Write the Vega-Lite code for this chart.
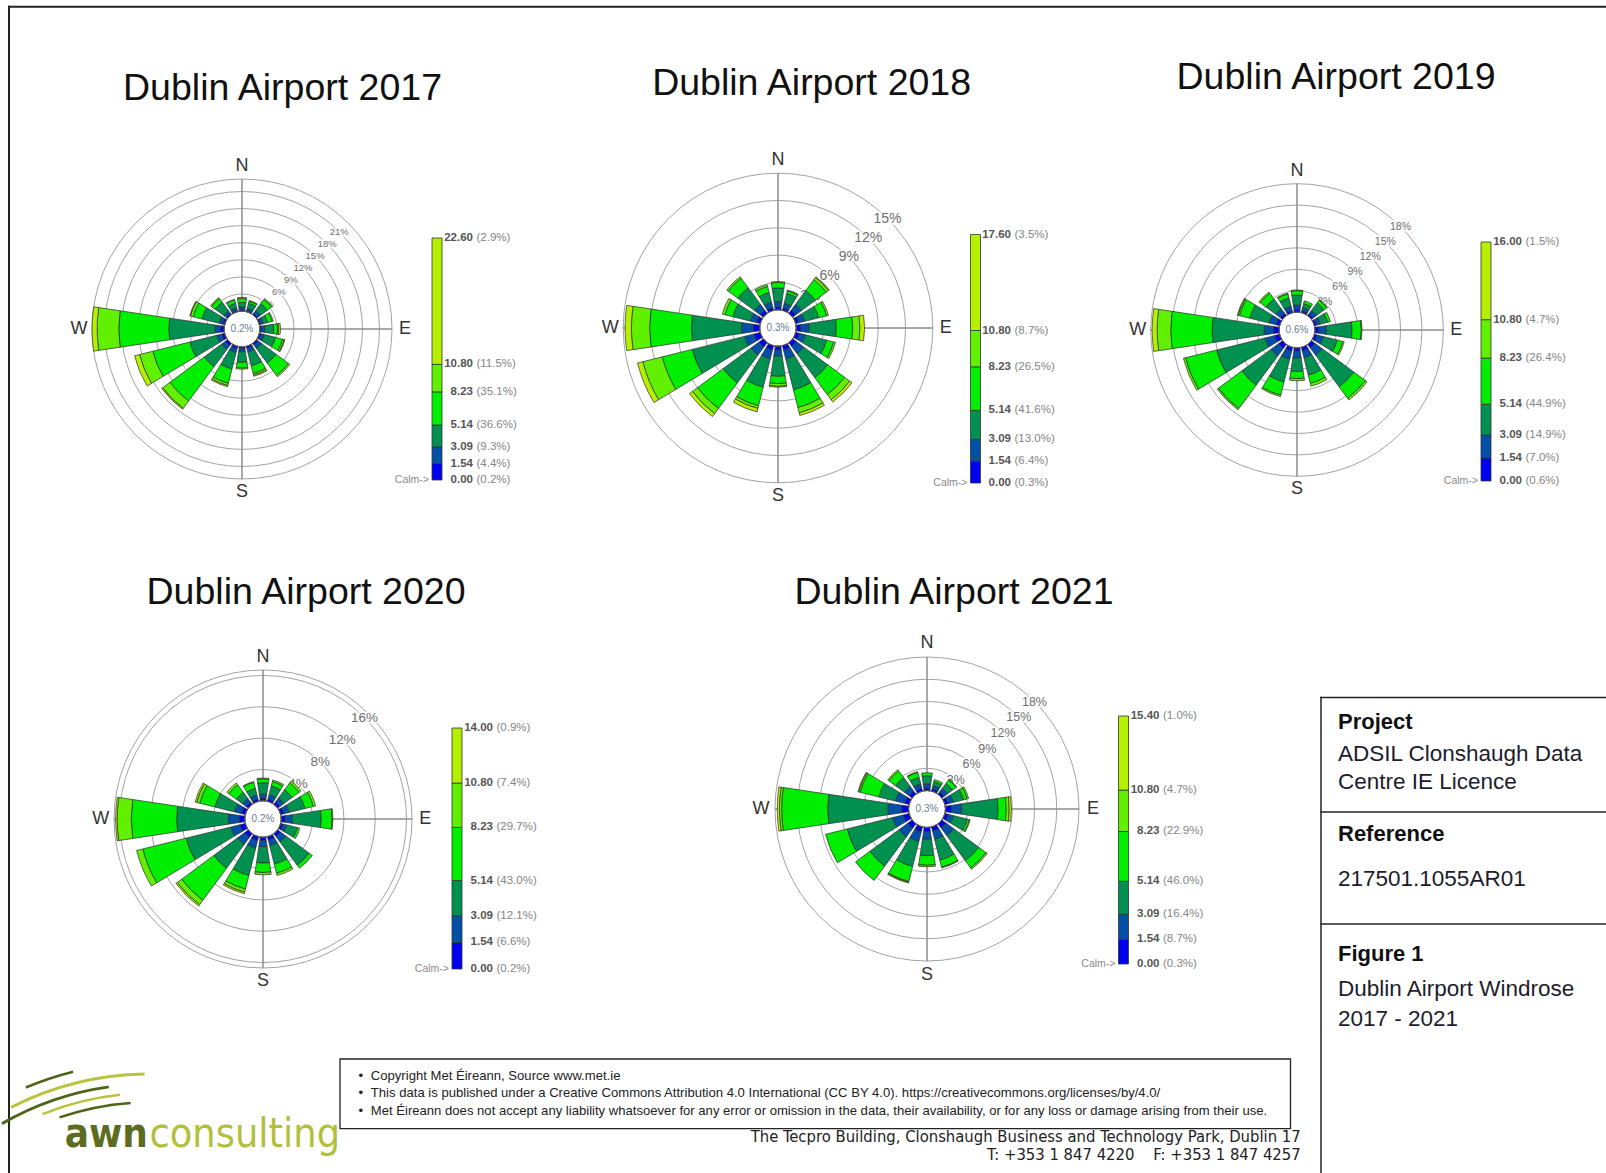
{
"$schema": "https://vega.github.io/schema/vega-lite/v6.json",
"background": "white",
"padding": 0,
"spacing": 0,
"config": {"view": {"stroke": null}, "font": "Liberation Sans", "concat": {"spacing": 0}},
"datasets": {
"rose": [
{"yr":2017,"dir":0,"b1":0.25,"b2":0.45,"b3":0.8,"b4":0.7,"b5":0.2,"b6":0},
{"yr":2017,"dir":22.5,"b1":0.2,"b2":0.4,"b3":0.9,"b4":0.4,"b5":0.1,"b6":0},
{"yr":2017,"dir":45,"b1":0.3,"b2":0.55,"b3":1.55,"b4":0.9,"b5":0.2,"b6":0},
{"yr":2017,"dir":67.5,"b1":0.25,"b2":0.45,"b3":0.8,"b4":0.8,"b5":0.2,"b6":0},
{"yr":2017,"dir":90,"b1":0.3,"b2":0.55,"b3":1.55,"b4":0.7,"b5":0.2,"b6":0.3},
{"yr":2017,"dir":112.5,"b1":0.3,"b2":0.6,"b3":2.0,"b4":1.3,"b5":0.3,"b6":0.1},
{"yr":2017,"dir":135,"b1":0.4,"b2":0.7,"b3":3.2,"b4":2.7,"b5":0.3,"b6":0},
{"yr":2017,"dir":157.5,"b1":0.35,"b2":0.65,"b3":2.5,"b4":1.4,"b5":0.3,"b6":0.2},
{"yr":2017,"dir":180,"b1":0.3,"b2":0.55,"b3":1.85,"b4":1.0,"b5":0.2,"b6":0},
{"yr":2017,"dir":202.5,"b1":0.4,"b2":0.7,"b3":3.0,"b4":2.6,"b5":0.4,"b6":0.2},
{"yr":2017,"dir":225,"b1":0.5,"b2":0.8,"b3":3.8,"b4":7.5,"b5":1.6,"b6":0.2},
{"yr":2017,"dir":247.5,"b1":0.5,"b2":0.9,"b3":4.9,"b4":6.7,"b5":2.4,"b6":0.9},
{"yr":2017,"dir":270,"b1":0.6,"b2":1.0,"b3":8.1,"b4":8.8,"b5":3.8,"b6":0.9},
{"yr":2017,"dir":292.5,"b1":0.35,"b2":0.65,"b3":3.1,"b4":1.6,"b5":0.5,"b6":0.1},
{"yr":2017,"dir":315,"b1":0.3,"b2":0.55,"b3":1.85,"b4":0.8,"b5":0.2,"b6":0},
{"yr":2017,"dir":337.5,"b1":0.2,"b2":0.45,"b3":0.85,"b4":0.6,"b5":0.1,"b6":0},
{"yr":2018,"dir":0,"b1":0.3,"b2":0.6,"b3":1.5,"b4":0.6,"b5":0.1,"b6":0},
{"yr":2018,"dir":22.5,"b1":0.25,"b2":0.55,"b3":1.1,"b4":0.3,"b5":0.1,"b6":0},
{"yr":2018,"dir":45,"b1":0.4,"b2":0.8,"b3":1.9,"b4":1.5,"b5":0.3,"b6":0.1},
{"yr":2018,"dir":67.5,"b1":0.35,"b2":0.65,"b3":1.6,"b4":0.9,"b5":0.2,"b6":0},
{"yr":2018,"dir":90,"b1":0.5,"b2":0.9,"b3":3.0,"b4":1.8,"b5":0.8,"b6":0.5},
{"yr":2018,"dir":112.5,"b1":0.4,"b2":0.7,"b3":2.4,"b4":0.8,"b5":0.2,"b6":0},
{"yr":2018,"dir":135,"b1":0.5,"b2":1.0,"b3":3.3,"b4":2.3,"b5":0.7,"b6":0.3},
{"yr":2018,"dir":157.5,"b1":0.5,"b2":1.0,"b3":3.5,"b4":2.0,"b5":0.6,"b6":0.3},
{"yr":2018,"dir":180,"b1":0.4,"b2":0.7,"b3":2.2,"b4":0.8,"b5":0.3,"b6":0.1},
{"yr":2018,"dir":202.5,"b1":0.5,"b2":1.0,"b3":3.2,"b4":2.1,"b5":0.3,"b6":0.4},
{"yr":2018,"dir":225,"b1":0.6,"b2":1.1,"b3":3.8,"b4":3.5,"b5":0.7,"b6":0.4},
{"yr":2018,"dir":247.5,"b1":0.7,"b2":1.1,"b3":5.9,"b4":3.4,"b5":2.2,"b6":0.6},
{"yr":2018,"dir":270,"b1":0.7,"b2":1.3,"b3":5.5,"b4":4.6,"b5":2.0,"b6":0.7},
{"yr":2018,"dir":292.5,"b1":0.4,"b2":0.7,"b3":2.0,"b4":0.9,"b5":0.3,"b6":0},
{"yr":2018,"dir":315,"b1":0.4,"b2":0.8,"b3":2.3,"b4":1.3,"b5":0.2,"b6":0},
{"yr":2018,"dir":337.5,"b1":0.3,"b2":0.6,"b3":1.1,"b4":0.7,"b5":0.2,"b6":0},
{"yr":2019,"dir":0,"b1":0.35,"b2":0.65,"b3":1.4,"b4":0.6,"b5":0.1,"b6":0},
{"yr":2019,"dir":22.5,"b1":0.25,"b2":0.45,"b3":0.6,"b4":0.4,"b5":0,"b6":0},
{"yr":2019,"dir":45,"b1":0.3,"b2":0.6,"b3":1.3,"b4":0.5,"b5":0.1,"b6":0},
{"yr":2019,"dir":67.5,"b1":0.3,"b2":0.55,"b3":1.05,"b4":0.4,"b5":0,"b6":0},
{"yr":2019,"dir":90,"b1":0.55,"b2":1.05,"b3":3.6,"b4":1.3,"b5":0.1,"b6":0},
{"yr":2019,"dir":112.5,"b1":0.4,"b2":0.9,"b3":2.0,"b4":0.8,"b5":0.2,"b6":0},
{"yr":2019,"dir":135,"b1":0.6,"b2":1.3,"b3":5.5,"b4":2.0,"b5":0.3,"b6":0},
{"yr":2019,"dir":157.5,"b1":0.5,"b2":1.0,"b3":2.5,"b4":1.2,"b5":0.4,"b6":0},
{"yr":2019,"dir":180,"b1":0.45,"b2":0.95,"b3":1.9,"b4":1.0,"b5":0.3,"b6":0},
{"yr":2019,"dir":202.5,"b1":0.55,"b2":1.15,"b3":3.3,"b4":1.9,"b5":0.2,"b6":0},
{"yr":2019,"dir":225,"b1":0.7,"b2":1.3,"b3":5.1,"b4":4.1,"b5":0.2,"b6":0},
{"yr":2019,"dir":247.5,"b1":0.7,"b2":1.4,"b3":7.0,"b4":4.5,"b5":0.3,"b6":0},
{"yr":2019,"dir":270,"b1":0.75,"b2":1.35,"b3":7.3,"b4":5.8,"b5":1.9,"b6":0.7},
{"yr":2019,"dir":292.5,"b1":0.5,"b2":1.0,"b3":2.8,"b4":1.5,"b5":0.2,"b6":0.1},
{"yr":2019,"dir":315,"b1":0.4,"b2":0.8,"b3":1.7,"b4":1.0,"b5":0.2,"b6":0},
{"yr":2019,"dir":337.5,"b1":0.3,"b2":0.6,"b3":1.2,"b4":0.6,"b5":0.1,"b6":0},
{"yr":2020,"dir":0,"b1":0.3,"b2":0.55,"b3":1.45,"b4":0.5,"b5":0.1,"b6":0},
{"yr":2020,"dir":22.5,"b1":0.3,"b2":0.55,"b3":1.15,"b4":0.6,"b5":0.2,"b6":0},
{"yr":2020,"dir":45,"b1":0.35,"b2":0.65,"b3":1.3,"b4":1.1,"b5":0.3,"b6":0},
{"yr":2020,"dir":67.5,"b1":0.4,"b2":0.7,"b3":2.1,"b4":1.1,"b5":0.3,"b6":0},
{"yr":2020,"dir":90,"b1":0.5,"b2":0.9,"b3":3.7,"b4":1.4,"b5":0.1,"b6":0},
{"yr":2020,"dir":112.5,"b1":0.3,"b2":0.5,"b3":1.4,"b4":0.3,"b5":0,"b6":0},
{"yr":2020,"dir":135,"b1":0.45,"b2":0.85,"b3":3.7,"b4":0.5,"b5":0,"b6":0},
{"yr":2020,"dir":157.5,"b1":0.45,"b2":0.75,"b3":2.4,"b4":1.2,"b5":0.3,"b6":0},
{"yr":2020,"dir":180,"b1":0.4,"b2":0.8,"b3":2.1,"b4":1.2,"b5":0.3,"b6":0},
{"yr":2020,"dir":202.5,"b1":0.5,"b2":1.0,"b3":3.6,"b4":1.8,"b5":0.4,"b6":0.2},
{"yr":2020,"dir":225,"b1":0.6,"b2":1.1,"b3":3.8,"b4":5.1,"b5":0.7,"b6":0.2},
{"yr":2020,"dir":247.5,"b1":0.7,"b2":1.2,"b3":5.9,"b4":5.7,"b5":0.8,"b6":0},
{"yr":2020,"dir":270,"b1":0.7,"b2":1.4,"b3":6.6,"b4":5.8,"b5":1.8,"b6":0.2},
{"yr":2020,"dir":292.5,"b1":0.5,"b2":0.9,"b3":2.6,"b4":2.0,"b5":0.4,"b6":0.2},
{"yr":2020,"dir":315,"b1":0.35,"b2":0.6,"b3":0.95,"b4":1.2,"b5":0.3,"b6":0},
{"yr":2020,"dir":337.5,"b1":0.3,"b2":0.5,"b3":0.9,"b4":0.8,"b5":0.1,"b6":0},
{"yr":2021,"dir":0,"b1":0.35,"b2":0.55,"b3":1.1,"b4":0.4,"b5":0,"b6":0},
{"yr":2021,"dir":22.5,"b1":0.3,"b2":0.45,"b3":0.55,"b4":0.3,"b5":0,"b6":0},
{"yr":2021,"dir":45,"b1":0.35,"b2":0.6,"b3":0.85,"b4":0.6,"b5":0.1,"b6":0},
{"yr":2021,"dir":67.5,"b1":0.45,"b2":0.75,"b3":1.4,"b4":0.5,"b5":0.2,"b6":0},
{"yr":2021,"dir":90,"b1":0.8,"b2":1.4,"b3":4.9,"b4":1.1,"b5":0.4,"b6":0.3},
{"yr":2021,"dir":112.5,"b1":0.45,"b2":0.75,"b3":1.9,"b4":0.3,"b5":0.1,"b6":0},
{"yr":2021,"dir":135,"b1":0.7,"b2":1.3,"b3":4.2,"b4":1.2,"b5":0.2,"b6":0},
{"yr":2021,"dir":157.5,"b1":0.6,"b2":1.1,"b3":2.9,"b4":1.0,"b5":0.1,"b6":0},
{"yr":2021,"dir":180,"b1":0.55,"b2":1.05,"b3":2.2,"b4":1.3,"b5":0.2,"b6":0},
{"yr":2021,"dir":202.5,"b1":0.7,"b2":1.3,"b3":3.5,"b4":2.1,"b5":0.1,"b6":0.1},
{"yr":2021,"dir":225,"b1":0.75,"b2":1.45,"b3":4.9,"b4":2.4,"b5":0,"b6":0},
{"yr":2021,"dir":247.5,"b1":0.8,"b2":1.5,"b3":6.3,"b4":3.0,"b5":0,"b6":0},
{"yr":2021,"dir":270,"b1":0.9,"b2":1.9,"b3":8.1,"b4":6.2,"b5":0.3,"b6":0.3},
{"yr":2021,"dir":292.5,"b1":0.65,"b2":1.25,"b3":2.3,"b4":2.6,"b5":0.2,"b6":0.1},
{"yr":2021,"dir":315,"b1":0.5,"b2":0.8,"b3":1.5,"b4":1.1,"b5":0.2,"b6":0},
{"yr":2021,"dir":337.5,"b1":0.4,"b2":0.6,"b3":0.9,"b4":0.7,"b5":0.1,"b6":0}
],
"leg": [
{"yr":2017,"bin":"calm","lo":0,"hi":0,"num":"0.00","pct":"(0.2%)"},
{"yr":2017,"bin":"b1","lo":0,"hi":1.54,"num":"1.54","pct":"(4.4%)"},
{"yr":2017,"bin":"b2","lo":1.54,"hi":3.09,"num":"3.09","pct":"(9.3%)"},
{"yr":2017,"bin":"b3","lo":3.09,"hi":5.14,"num":"5.14","pct":"(36.6%)"},
{"yr":2017,"bin":"b4","lo":5.14,"hi":8.23,"num":"8.23","pct":"(35.1%)"},
{"yr":2017,"bin":"b5","lo":8.23,"hi":10.8,"num":"10.80","pct":"(11.5%)"},
{"yr":2017,"bin":"b6","lo":10.8,"hi":22.6,"num":"22.60","pct":"(2.9%)"},
{"yr":2018,"bin":"calm","lo":0,"hi":0,"num":"0.00","pct":"(0.3%)"},
{"yr":2018,"bin":"b1","lo":0,"hi":1.54,"num":"1.54","pct":"(6.4%)"},
{"yr":2018,"bin":"b2","lo":1.54,"hi":3.09,"num":"3.09","pct":"(13.0%)"},
{"yr":2018,"bin":"b3","lo":3.09,"hi":5.14,"num":"5.14","pct":"(41.6%)"},
{"yr":2018,"bin":"b4","lo":5.14,"hi":8.23,"num":"8.23","pct":"(26.5%)"},
{"yr":2018,"bin":"b5","lo":8.23,"hi":10.8,"num":"10.80","pct":"(8.7%)"},
{"yr":2018,"bin":"b6","lo":10.8,"hi":17.6,"num":"17.60","pct":"(3.5%)"},
{"yr":2019,"bin":"calm","lo":0,"hi":0,"num":"0.00","pct":"(0.6%)"},
{"yr":2019,"bin":"b1","lo":0,"hi":1.54,"num":"1.54","pct":"(7.0%)"},
{"yr":2019,"bin":"b2","lo":1.54,"hi":3.09,"num":"3.09","pct":"(14.9%)"},
{"yr":2019,"bin":"b3","lo":3.09,"hi":5.14,"num":"5.14","pct":"(44.9%)"},
{"yr":2019,"bin":"b4","lo":5.14,"hi":8.23,"num":"8.23","pct":"(26.4%)"},
{"yr":2019,"bin":"b5","lo":8.23,"hi":10.8,"num":"10.80","pct":"(4.7%)"},
{"yr":2019,"bin":"b6","lo":10.8,"hi":16,"num":"16.00","pct":"(1.5%)"},
{"yr":2020,"bin":"calm","lo":0,"hi":0,"num":"0.00","pct":"(0.2%)"},
{"yr":2020,"bin":"b1","lo":0,"hi":1.54,"num":"1.54","pct":"(6.6%)"},
{"yr":2020,"bin":"b2","lo":1.54,"hi":3.09,"num":"3.09","pct":"(12.1%)"},
{"yr":2020,"bin":"b3","lo":3.09,"hi":5.14,"num":"5.14","pct":"(43.0%)"},
{"yr":2020,"bin":"b4","lo":5.14,"hi":8.23,"num":"8.23","pct":"(29.7%)"},
{"yr":2020,"bin":"b5","lo":8.23,"hi":10.8,"num":"10.80","pct":"(7.4%)"},
{"yr":2020,"bin":"b6","lo":10.8,"hi":14,"num":"14.00","pct":"(0.9%)"},
{"yr":2021,"bin":"calm","lo":0,"hi":0,"num":"0.00","pct":"(0.3%)"},
{"yr":2021,"bin":"b1","lo":0,"hi":1.54,"num":"1.54","pct":"(8.7%)"},
{"yr":2021,"bin":"b2","lo":1.54,"hi":3.09,"num":"3.09","pct":"(16.4%)"},
{"yr":2021,"bin":"b3","lo":3.09,"hi":5.14,"num":"5.14","pct":"(46.0%)"},
{"yr":2021,"bin":"b4","lo":5.14,"hi":8.23,"num":"8.23","pct":"(22.9%)"},
{"yr":2021,"bin":"b5","lo":8.23,"hi":10.8,"num":"10.80","pct":"(4.7%)"},
{"yr":2021,"bin":"b6","lo":10.8,"hi":15.4,"num":"15.40","pct":"(1.0%)"}
],
"grid": [
{"yr":2017,"g":3,"lab":"3%"},{"yr":2017,"g":6,"lab":"6%"},{"yr":2017,"g":9,"lab":"9%"},{"yr":2017,"g":12,"lab":"12%"},{"yr":2017,"g":15,"lab":"15%"},{"yr":2017,"g":18,"lab":"18%"},{"yr":2017,"g":21,"lab":"21%"},
{"yr":2018,"g":3,"lab":"3%"},{"yr":2018,"g":6,"lab":"6%"},{"yr":2018,"g":9,"lab":"9%"},{"yr":2018,"g":12,"lab":"12%"},{"yr":2018,"g":15,"lab":"15%"},
{"yr":2019,"g":3,"lab":"3%"},{"yr":2019,"g":6,"lab":"6%"},{"yr":2019,"g":9,"lab":"9%"},{"yr":2019,"g":12,"lab":"12%"},{"yr":2019,"g":15,"lab":"15%"},{"yr":2019,"g":18,"lab":"18%"},
{"yr":2020,"g":4,"lab":"4%"},{"yr":2020,"g":8,"lab":"8%"},{"yr":2020,"g":12,"lab":"12%"},{"yr":2020,"g":16,"lab":"16%"},
{"yr":2021,"g":3,"lab":"3%"},{"yr":2021,"g":6,"lab":"6%"},{"yr":2021,"g":9,"lab":"9%"},{"yr":2021,"g":12,"lab":"12%"},{"yr":2021,"g":15,"lab":"15%"},{"yr":2021,"g":18,"lab":"18%"}
],
"calm": [{"yr":2017,"calm":"0.2%"},{"yr":2018,"calm":"0.3%"},{"yr":2019,"calm":"0.6%"},{"yr":2020,"calm":"0.2%"},{"yr":2021,"calm":"0.3%"}],
"nesw": [{"a":0,"t":"N"},{"a":90,"t":"E"},{"a":180,"t":"S"},{"a":270,"t":"W"}]
},
"vconcat": [
{"hconcat": [
{"width": 420, "height": 545,
 "encoding": {"x": {"datum": 0, "type": "quantitative", "scale": {"domain": [-242, 178], "nice": false, "zero": false}, "axis": null},
              "y": {"datum": 0, "type": "quantitative", "scale": {"domain": [-216, 329], "nice": false, "zero": false}, "axis": null}},
 "layer": [
  {"data": {"values": [{}]}, "mark": {"type": "rect", "fill": "#222222"},
   "encoding": {"x": {"datum": -234, "type": "quantitative"}, "x2": {"datum": 1364}, "y": {"datum": 323.3, "type": "quantitative"}, "y2": {"datum": 321.3}}},
  {"data": {"values": [{}]}, "mark": {"type": "rect", "fill": "#222222"},
   "encoding": {"x": {"datum": -234, "type": "quantitative"}, "x2": {"datum": -232}, "y": {"datum": 323.3, "type": "quantitative"}, "y2": {"datum": -216}}},
  {"data": {"name": "grid"}, "transform": [{"filter": "datum.yr == 2017"}], "mark": {"type": "arc", "filled": false, "stroke": "#a3a3a3", "strokeWidth": 1},
   "encoding": {"theta": {"datum": 0, "type": "quantitative", "scale": {"domain": [0, 360], "range": [0, 6.283185307179586], "zero": false, "nice": false}}, "theta2": {"datum": 360}, "radius": {"field": "g", "type": "quantitative", "stack": null, "scale": {"type": "linear", "domain": [0, 23.2], "range": [18, 150], "zero": false, "nice": false}}}},
  {"data": {"values": [{}]}, "mark": {"type": "arc", "filled": false, "stroke": "#a3a3a3", "strokeWidth": 1},
   "encoding": {"theta": {"datum": 0, "type": "quantitative"}, "theta2": {"datum": 360}, "radius": {"datum": 23.2, "type": "quantitative"}}},
  {"data": {"name": "nesw"}, "mark": {"type": "arc", "filled": false, "stroke": "#8c8c8c", "strokeWidth": 1},
   "encoding": {"theta": {"field": "a", "type": "quantitative", "stack": null}, "theta2": {"field": "a"}, "radius": {"datum": 23.2, "type": "quantitative"}, "radius2": {"datum": 0}}},
  {"data": {"name": "grid"}, "transform": [{"filter": "datum.yr == 2017"}], "mark": {"type": "text", "fontSize": 9.5, "fill": "white", "stroke": "white", "strokeWidth": 3},
   "encoding": {"theta": {"datum": 45, "type": "quantitative"}, "radius": {"field": "g", "type": "quantitative", "stack": null}, "text": {"field": "lab"}}},
  {"data": {"name": "grid"}, "transform": [{"filter": "datum.yr == 2017"}], "mark": {"type": "text", "fontSize": 9.5, "fill": "#6e6e6e"},
   "encoding": {"theta": {"datum": 45, "type": "quantitative"}, "radius": {"field": "g", "type": "quantitative", "stack": null}, "text": {"field": "lab"}}},
  {"data": {"name": "rose"}, "transform": [{"filter": "datum.yr == 2017"}, {"fold": ["b1","b2","b3","b4","b5","b6"], "as": ["bin","f"]}, {"stack": "f", "groupby": ["dir"], "sort": [{"field": "bin", "order": "ascending"}], "as": ["c0","c1"]}, {"filter": "datum.f > 0"}],
   "mark": {"type": "arc", "stroke": "#2d2d2d", "strokeWidth": 0.7, "thetaOffset": -0.1484, "theta2Offset": 0.1484},
   "encoding": {"theta": {"field": "dir", "type": "quantitative", "stack": null}, "theta2": {"field": "dir"}, "radius": {"field": "c1", "type": "quantitative", "stack": null}, "radius2": {"field": "c0"},
     "color": {"field": "bin", "type": "nominal", "scale": {"domain": ["b1","b2","b3","b4","b5","b6"], "range": ["#0000F0","#0050A8","#009150","#00EE00","#60F000","#B4F000"]}, "legend": null}}},
  {"data": {"values": [{}]}, "mark": {"type": "arc", "fill": "#87CEEB", "stroke": "#555555", "strokeWidth": 0.6},
   "encoding": {"theta": {"datum": 0, "type": "quantitative"}, "theta2": {"datum": 360}, "radius": {"datum": 0, "type": "quantitative"}}},
  {"data": {"name": "calm"}, "transform": [{"filter": "datum.yr == 2017"}], "mark": {"type": "text", "fontSize": 10, "fill": "#6a7f8f"}, "encoding": {"text": {"field": "calm"}}},
  {"data": {"name": "nesw"}, "mark": {"type": "text", "fontSize": 18, "fill": "#333333"},
   "encoding": {"theta": {"field": "a", "type": "quantitative", "stack": null}, "radius": {"datum": 25.5, "type": "quantitative"}, "text": {"field": "t"}}},
  {"data": {"values": [{}]}, "mark": {"type": "text", "fontSize": 37.5, "baseline": "alphabetic", "fill": "#111111"},
   "encoding": {"x": {"datum": 40.5, "type": "quantitative"}, "y": {"datum": 229.5, "type": "quantitative"}, "text": {"value": "Dublin Airport 2017"}}}
 ]},
{"width": 120, "height": 545, "data": {"name": "leg"},
 "encoding": {"x": {"datum": 12, "type": "quantitative", "scale": {"domain": [0, 120], "nice": false, "zero": false}, "axis": null},
              "y": {"field": "hi", "type": "quantitative", "scale": {"domain": [0, 22.6], "range": [480, 238], "nice": false, "zero": false}, "axis": null}},
 "layer": [
  {"transform": [{"filter": "datum.yr == 2017 && datum.bin != 'calm'"}], "mark": {"type": "rect", "stroke": "#333333", "strokeWidth": 0.8},
   "encoding": {"x2": {"datum": 22}, "y": {"field": "lo", "type": "quantitative", "scale": {"domain": [0, 22.6], "range": [480, 238], "nice": false, "zero": false}, "axis": null}, "y2": {"field": "hi"},
     "color": {"field": "bin", "type": "nominal", "scale": {"domain": ["b1","b2","b3","b4","b5","b6"], "range": ["#0000F0","#0050A8","#009150","#00EE00","#60F000","#B4F000"]}, "legend": null}}},
  {"transform": [{"filter": "datum.yr == 2017"}], "mark": {"type": "text", "align": "right", "fontSize": 11.5, "fontWeight": "bold", "fill": "#555555"},
   "encoding": {"x": {"datum": 53, "type": "quantitative"}, "text": {"field": "num"}}},
  {"transform": [{"filter": "datum.yr == 2017"}], "mark": {"type": "text", "align": "left", "fontSize": 11.5, "fill": "#858585"},
   "encoding": {"x": {"datum": 56.5, "type": "quantitative"}, "text": {"field": "pct"}}},
  {"transform": [{"filter": "datum.yr == 2017 && datum.bin == 'calm'"}], "mark": {"type": "text", "align": "right", "fontSize": 10.5, "fill": "#8a8a8a"},
   "encoding": {"x": {"datum": 9, "type": "quantitative"}, "text": {"value": "Calm->"}}},
  {"data": {"values": [{}]}, "mark": {"type": "text", "fontSize": 12.5, "fontWeight": "bold", "fill": "#6b6b6b", "dy": -33},
   "encoding": {"x": {"datum": 51, "type": "quantitative"}, "y": {"datum": 22.6, "type": "quantitative"}, "text": {"value": "Wind Speed"}}},
  {"data": {"values": [{}]}, "mark": {"type": "text", "fontSize": 12.5, "fontWeight": "bold", "fill": "#6b6b6b", "dy": -17.5},
   "encoding": {"x": {"datum": 51, "type": "quantitative"}, "y": {"datum": 22.6, "type": "quantitative"}, "text": {"value": "(m/s)"}}}
 ]},
{"width": 410, "height": 545,
 "encoding": {"x": {"datum": 0, "type": "quantitative", "scale": {"domain": [-238, 172], "nice": false, "zero": false}, "axis": null},
              "y": {"datum": 0, "type": "quantitative", "scale": {"domain": [-217, 328], "nice": false, "zero": false}, "axis": null}},
 "layer": [
  {"data": {"name": "grid"}, "transform": [{"filter": "datum.yr == 2018"}], "mark": {"type": "arc", "filled": false, "stroke": "#a3a3a3", "strokeWidth": 1},
   "encoding": {"theta": {"datum": 0, "type": "quantitative", "scale": {"domain": [0, 360], "range": [0, 6.283185307179586], "zero": false, "nice": false}}, "theta2": {"datum": 360}, "radius": {"field": "g", "type": "quantitative", "stack": null, "scale": {"type": "linear", "domain": [0, 15], "range": [18.3, 154.8], "zero": false, "nice": false}}}},
  {"data": {"name": "nesw"}, "mark": {"type": "arc", "filled": false, "stroke": "#8c8c8c", "strokeWidth": 1},
   "encoding": {"theta": {"field": "a", "type": "quantitative", "stack": null}, "theta2": {"field": "a"}, "radius": {"datum": 15, "type": "quantitative"}, "radius2": {"datum": 0}}},
  {"data": {"name": "grid"}, "transform": [{"filter": "datum.yr == 2018"}], "mark": {"type": "text", "fontSize": 14, "fill": "white", "stroke": "white", "strokeWidth": 3},
   "encoding": {"theta": {"datum": 45, "type": "quantitative"}, "radius": {"field": "g", "type": "quantitative", "stack": null}, "text": {"field": "lab"}}},
  {"data": {"name": "grid"}, "transform": [{"filter": "datum.yr == 2018"}], "mark": {"type": "text", "fontSize": 14, "fill": "#6e6e6e"},
   "encoding": {"theta": {"datum": 45, "type": "quantitative"}, "radius": {"field": "g", "type": "quantitative", "stack": null}, "text": {"field": "lab"}}},
  {"data": {"name": "rose"}, "transform": [{"filter": "datum.yr == 2018"}, {"fold": ["b1","b2","b3","b4","b5","b6"], "as": ["bin","f"]}, {"stack": "f", "groupby": ["dir"], "sort": [{"field": "bin", "order": "ascending"}], "as": ["c0","c1"]}, {"filter": "datum.f > 0"}],
   "mark": {"type": "arc", "stroke": "#2d2d2d", "strokeWidth": 0.7, "thetaOffset": -0.1484, "theta2Offset": 0.1484},
   "encoding": {"theta": {"field": "dir", "type": "quantitative", "stack": null}, "theta2": {"field": "dir"}, "radius": {"field": "c1", "type": "quantitative", "stack": null}, "radius2": {"field": "c0"},
     "color": {"field": "bin", "type": "nominal", "scale": {"domain": ["b1","b2","b3","b4","b5","b6"], "range": ["#0000F0","#0050A8","#009150","#00EE00","#60F000","#B4F000"]}, "legend": null}}},
  {"data": {"values": [{}]}, "mark": {"type": "arc", "fill": "#87CEEB", "stroke": "#555555", "strokeWidth": 0.6},
   "encoding": {"theta": {"datum": 0, "type": "quantitative"}, "theta2": {"datum": 360}, "radius": {"datum": 0, "type": "quantitative"}}},
  {"data": {"name": "calm"}, "transform": [{"filter": "datum.yr == 2018"}], "mark": {"type": "text", "fontSize": 10, "fill": "#6a7f8f"}, "encoding": {"text": {"field": "calm"}}},
  {"data": {"name": "nesw"}, "mark": {"type": "text", "fontSize": 18, "fill": "#333333"},
   "encoding": {"theta": {"field": "a", "type": "quantitative", "stack": null}, "radius": {"datum": 16.43, "type": "quantitative"}, "text": {"field": "t"}}},
  {"data": {"values": [{}]}, "mark": {"type": "text", "fontSize": 37.5, "baseline": "alphabetic", "fill": "#111111"},
   "encoding": {"x": {"datum": 33.6, "type": "quantitative"}, "y": {"datum": 232.7, "type": "quantitative"}, "text": {"value": "Dublin Airport 2018"}}}
 ]},
{"width": 110, "height": 545, "data": {"name": "leg"},
 "encoding": {"x": {"datum": 20.5, "type": "quantitative", "scale": {"domain": [0, 110], "nice": false, "zero": false}, "axis": null},
              "y": {"field": "hi", "type": "quantitative", "scale": {"domain": [0, 17.6], "range": [483, 234.5], "nice": false, "zero": false}, "axis": null}},
 "layer": [
  {"transform": [{"filter": "datum.yr == 2018 && datum.bin != 'calm'"}], "mark": {"type": "rect", "stroke": "#333333", "strokeWidth": 0.8},
   "encoding": {"x2": {"datum": 30.5}, "y": {"field": "lo", "type": "quantitative", "scale": {"domain": [0, 17.6], "range": [483, 234.5], "nice": false, "zero": false}, "axis": null}, "y2": {"field": "hi"},
     "color": {"field": "bin", "type": "nominal", "scale": {"domain": ["b1","b2","b3","b4","b5","b6"], "range": ["#0000F0","#0050A8","#009150","#00EE00","#60F000","#B4F000"]}, "legend": null}}},
  {"transform": [{"filter": "datum.yr == 2018"}], "mark": {"type": "text", "align": "right", "fontSize": 11.5, "fontWeight": "bold", "fill": "#555555"},
   "encoding": {"x": {"datum": 61, "type": "quantitative"}, "text": {"field": "num"}}},
  {"transform": [{"filter": "datum.yr == 2018"}], "mark": {"type": "text", "align": "left", "fontSize": 11.5, "fill": "#858585"},
   "encoding": {"x": {"datum": 64.5, "type": "quantitative"}, "text": {"field": "pct"}}},
  {"transform": [{"filter": "datum.yr == 2018 && datum.bin == 'calm'"}], "mark": {"type": "text", "align": "right", "fontSize": 10.5, "fill": "#8a8a8a"},
   "encoding": {"x": {"datum": 17.5, "type": "quantitative"}, "text": {"value": "Calm->"}}},
  {"data": {"values": [{}]}, "mark": {"type": "text", "fontSize": 12.5, "fontWeight": "bold", "fill": "#6b6b6b", "dy": -33},
   "encoding": {"x": {"datum": 60, "type": "quantitative"}, "y": {"datum": 17.6, "type": "quantitative"}, "text": {"value": "Wind Speed"}}},
  {"data": {"values": [{}]}, "mark": {"type": "text", "fontSize": 12.5, "fontWeight": "bold", "fill": "#6b6b6b", "dy": -17.5},
   "encoding": {"x": {"datum": 60, "type": "quantitative"}, "y": {"datum": 17.6, "type": "quantitative"}, "text": {"value": "(m/s)"}}}
 ]},
{"width": 400, "height": 545,
 "encoding": {"x": {"datum": 0, "type": "quantitative", "scale": {"domain": [-237, 163], "nice": false, "zero": false}, "axis": null},
              "y": {"datum": 0, "type": "quantitative", "scale": {"domain": [-215, 330], "nice": false, "zero": false}, "axis": null}},
 "layer": [
  {"data": {"name": "grid"}, "transform": [{"filter": "datum.yr == 2019"}], "mark": {"type": "arc", "filled": false, "stroke": "#a3a3a3", "strokeWidth": 1},
   "encoding": {"theta": {"datum": 0, "type": "quantitative", "scale": {"domain": [0, 360], "range": [0, 6.283185307179586], "zero": false, "nice": false}}, "theta2": {"datum": 360}, "radius": {"field": "g", "type": "quantitative", "stack": null, "scale": {"type": "linear", "domain": [0, 18], "range": [18, 146.3], "zero": false, "nice": false}}}},
  {"data": {"name": "nesw"}, "mark": {"type": "arc", "filled": false, "stroke": "#8c8c8c", "strokeWidth": 1},
   "encoding": {"theta": {"field": "a", "type": "quantitative", "stack": null}, "theta2": {"field": "a"}, "radius": {"datum": 18, "type": "quantitative"}, "radius2": {"datum": 0}}},
  {"data": {"name": "grid"}, "transform": [{"filter": "datum.yr == 2019"}], "mark": {"type": "text", "fontSize": 10.5, "fill": "white", "stroke": "white", "strokeWidth": 3},
   "encoding": {"theta": {"datum": 45, "type": "quantitative"}, "radius": {"field": "g", "type": "quantitative", "stack": null}, "text": {"field": "lab"}}},
  {"data": {"name": "grid"}, "transform": [{"filter": "datum.yr == 2019"}], "mark": {"type": "text", "fontSize": 10.5, "fill": "#6e6e6e"},
   "encoding": {"theta": {"datum": 45, "type": "quantitative"}, "radius": {"field": "g", "type": "quantitative", "stack": null}, "text": {"field": "lab"}}},
  {"data": {"name": "rose"}, "transform": [{"filter": "datum.yr == 2019"}, {"fold": ["b1","b2","b3","b4","b5","b6"], "as": ["bin","f"]}, {"stack": "f", "groupby": ["dir"], "sort": [{"field": "bin", "order": "ascending"}], "as": ["c0","c1"]}, {"filter": "datum.f > 0"}],
   "mark": {"type": "arc", "stroke": "#2d2d2d", "strokeWidth": 0.7, "thetaOffset": -0.1484, "theta2Offset": 0.1484},
   "encoding": {"theta": {"field": "dir", "type": "quantitative", "stack": null}, "theta2": {"field": "dir"}, "radius": {"field": "c1", "type": "quantitative", "stack": null}, "radius2": {"field": "c0"},
     "color": {"field": "bin", "type": "nominal", "scale": {"domain": ["b1","b2","b3","b4","b5","b6"], "range": ["#0000F0","#0050A8","#009150","#00EE00","#60F000","#B4F000"]}, "legend": null}}},
  {"data": {"values": [{}]}, "mark": {"type": "arc", "fill": "#87CEEB", "stroke": "#555555", "strokeWidth": 0.6},
   "encoding": {"theta": {"datum": 0, "type": "quantitative"}, "theta2": {"datum": 360}, "radius": {"datum": 0, "type": "quantitative"}}},
  {"data": {"name": "calm"}, "transform": [{"filter": "datum.yr == 2019"}], "mark": {"type": "text", "fontSize": 10, "fill": "#6a7f8f"}, "encoding": {"text": {"field": "calm"}}},
  {"data": {"name": "nesw"}, "mark": {"type": "text", "fontSize": 18, "fill": "#333333"},
   "encoding": {"theta": {"field": "a", "type": "quantitative", "stack": null}, "radius": {"datum": 19.8, "type": "quantitative"}, "text": {"field": "t"}}},
  {"data": {"values": [{}]}, "mark": {"type": "text", "fontSize": 37.5, "baseline": "alphabetic", "fill": "#111111"},
   "encoding": {"x": {"datum": 39, "type": "quantitative"}, "y": {"datum": 241, "type": "quantitative"}, "text": {"value": "Dublin Airport 2019"}}}
 ]},
{"width": 146, "height": 545, "data": {"name": "leg"},
 "encoding": {"x": {"datum": 21, "type": "quantitative", "scale": {"domain": [0, 146], "nice": false, "zero": false}, "axis": null},
              "y": {"field": "hi", "type": "quantitative", "scale": {"domain": [0, 16], "range": [481, 242], "nice": false, "zero": false}, "axis": null}},
 "layer": [
  {"transform": [{"filter": "datum.yr == 2019 && datum.bin != 'calm'"}], "mark": {"type": "rect", "stroke": "#333333", "strokeWidth": 0.8},
   "encoding": {"x2": {"datum": 31}, "y": {"field": "lo", "type": "quantitative", "scale": {"domain": [0, 16], "range": [481, 242], "nice": false, "zero": false}, "axis": null}, "y2": {"field": "hi"},
     "color": {"field": "bin", "type": "nominal", "scale": {"domain": ["b1","b2","b3","b4","b5","b6"], "range": ["#0000F0","#0050A8","#009150","#00EE00","#60F000","#B4F000"]}, "legend": null}}},
  {"transform": [{"filter": "datum.yr == 2019"}], "mark": {"type": "text", "align": "right", "fontSize": 11.5, "fontWeight": "bold", "fill": "#555555"},
   "encoding": {"x": {"datum": 62, "type": "quantitative"}, "text": {"field": "num"}}},
  {"transform": [{"filter": "datum.yr == 2019"}], "mark": {"type": "text", "align": "left", "fontSize": 11.5, "fill": "#858585"},
   "encoding": {"x": {"datum": 65.5, "type": "quantitative"}, "text": {"field": "pct"}}},
  {"transform": [{"filter": "datum.yr == 2019 && datum.bin == 'calm'"}], "mark": {"type": "text", "align": "right", "fontSize": 10.5, "fill": "#8a8a8a"},
   "encoding": {"x": {"datum": 18, "type": "quantitative"}, "text": {"value": "Calm->"}}},
  {"data": {"values": [{}]}, "mark": {"type": "text", "fontSize": 12.5, "fontWeight": "bold", "fill": "#6b6b6b", "dy": -33},
   "encoding": {"x": {"datum": 59, "type": "quantitative"}, "y": {"datum": 16, "type": "quantitative"}, "text": {"value": "Wind Speed"}}},
  {"data": {"values": [{}]}, "mark": {"type": "text", "fontSize": 12.5, "fontWeight": "bold", "fill": "#6b6b6b", "dy": -17.5},
   "encoding": {"x": {"datum": 59, "type": "quantitative"}, "y": {"datum": 16, "type": "quantitative"}, "text": {"value": "(m/s)"}}}
 ]}
], "spacing": 0, "bounds": "flush"},
{"hconcat": [
{"width": 440, "height": 505,
 "encoding": {"x": {"datum": 0, "type": "quantitative", "scale": {"domain": [-263, 177], "nice": false, "zero": false}, "axis": null},
              "y": {"datum": 0, "type": "quantitative", "scale": {"domain": [-231, 274], "nice": false, "zero": false}, "axis": null}},
 "layer": [
  {"data": {"values": [{}]}, "mark": {"type": "rect", "fill": "#222222"},
   "encoding": {"x": {"datum": -255, "type": "quantitative"}, "x2": {"datum": -253}, "y": {"datum": 274, "type": "quantitative"}, "y2": {"datum": -231}}},
  {"data": {"name": "grid"}, "transform": [{"filter": "datum.yr == 2020"}], "mark": {"type": "arc", "filled": false, "stroke": "#a3a3a3", "strokeWidth": 1},
   "encoding": {"theta": {"datum": 0, "type": "quantitative", "scale": {"domain": [0, 360], "range": [0, 6.283185307179586], "zero": false, "nice": false}}, "theta2": {"datum": 360}, "radius": {"field": "g", "type": "quantitative", "stack": null, "scale": {"type": "linear", "domain": [0, 16.7], "range": [18.3, 149], "zero": false, "nice": false}}}},
  {"data": {"values": [{}]}, "mark": {"type": "arc", "filled": false, "stroke": "#a3a3a3", "strokeWidth": 1},
   "encoding": {"theta": {"datum": 0, "type": "quantitative"}, "theta2": {"datum": 360}, "radius": {"datum": 16.7, "type": "quantitative"}}},
  {"data": {"name": "nesw"}, "mark": {"type": "arc", "filled": false, "stroke": "#8c8c8c", "strokeWidth": 1},
   "encoding": {"theta": {"field": "a", "type": "quantitative", "stack": null}, "theta2": {"field": "a"}, "radius": {"datum": 16.7, "type": "quantitative"}, "radius2": {"datum": 0}}},
  {"data": {"name": "grid"}, "transform": [{"filter": "datum.yr == 2020"}], "mark": {"type": "text", "fontSize": 13.5, "fill": "white", "stroke": "white", "strokeWidth": 3},
   "encoding": {"theta": {"datum": 45, "type": "quantitative"}, "radius": {"field": "g", "type": "quantitative", "stack": null}, "text": {"field": "lab"}}},
  {"data": {"name": "grid"}, "transform": [{"filter": "datum.yr == 2020"}], "mark": {"type": "text", "fontSize": 13.5, "fill": "#6e6e6e"},
   "encoding": {"theta": {"datum": 45, "type": "quantitative"}, "radius": {"field": "g", "type": "quantitative", "stack": null}, "text": {"field": "lab"}}},
  {"data": {"name": "rose"}, "transform": [{"filter": "datum.yr == 2020"}, {"fold": ["b1","b2","b3","b4","b5","b6"], "as": ["bin","f"]}, {"stack": "f", "groupby": ["dir"], "sort": [{"field": "bin", "order": "ascending"}], "as": ["c0","c1"]}, {"filter": "datum.f > 0"}],
   "mark": {"type": "arc", "stroke": "#2d2d2d", "strokeWidth": 0.7, "thetaOffset": -0.1484, "theta2Offset": 0.1484},
   "encoding": {"theta": {"field": "dir", "type": "quantitative", "stack": null}, "theta2": {"field": "dir"}, "radius": {"field": "c1", "type": "quantitative", "stack": null}, "radius2": {"field": "c0"},
     "color": {"field": "bin", "type": "nominal", "scale": {"domain": ["b1","b2","b3","b4","b5","b6"], "range": ["#0000F0","#0050A8","#009150","#00EE00","#60F000","#B4F000"]}, "legend": null}}},
  {"data": {"values": [{}]}, "mark": {"type": "arc", "fill": "#87CEEB", "stroke": "#555555", "strokeWidth": 0.6},
   "encoding": {"theta": {"datum": 0, "type": "quantitative"}, "theta2": {"datum": 360}, "radius": {"datum": 0, "type": "quantitative"}}},
  {"data": {"name": "calm"}, "transform": [{"filter": "datum.yr == 2020"}], "mark": {"type": "text", "fontSize": 10, "fill": "#6a7f8f"}, "encoding": {"text": {"field": "calm"}}},
  {"data": {"name": "nesw"}, "mark": {"type": "text", "fontSize": 18, "fill": "#333333"},
   "encoding": {"theta": {"field": "a", "type": "quantitative", "stack": null}, "radius": {"datum": 18.4, "type": "quantitative"}, "text": {"field": "t"}}},
  {"data": {"values": [{}]}, "mark": {"type": "text", "fontSize": 37.5, "baseline": "alphabetic", "fill": "#111111"},
   "encoding": {"x": {"datum": 43, "type": "quantitative"}, "y": {"datum": 215, "type": "quantitative"}, "text": {"value": "Dublin Airport 2020"}}}
 ]},
{"width": 120, "height": 505, "data": {"name": "leg"},
 "encoding": {"x": {"datum": 12, "type": "quantitative", "scale": {"domain": [0, 120], "nice": false, "zero": false}, "axis": null},
              "y": {"field": "hi", "type": "quantitative", "scale": {"domain": [0, 14], "range": [424, 183], "nice": false, "zero": false}, "axis": null}},
 "layer": [
  {"transform": [{"filter": "datum.yr == 2020 && datum.bin != 'calm'"}], "mark": {"type": "rect", "stroke": "#333333", "strokeWidth": 0.8},
   "encoding": {"x2": {"datum": 22}, "y": {"field": "lo", "type": "quantitative", "scale": {"domain": [0, 14], "range": [424, 183], "nice": false, "zero": false}, "axis": null}, "y2": {"field": "hi"},
     "color": {"field": "bin", "type": "nominal", "scale": {"domain": ["b1","b2","b3","b4","b5","b6"], "range": ["#0000F0","#0050A8","#009150","#00EE00","#60F000","#B4F000"]}, "legend": null}}},
  {"transform": [{"filter": "datum.yr == 2020"}], "mark": {"type": "text", "align": "right", "fontSize": 11.5, "fontWeight": "bold", "fill": "#555555"},
   "encoding": {"x": {"datum": 53, "type": "quantitative"}, "text": {"field": "num"}}},
  {"transform": [{"filter": "datum.yr == 2020"}], "mark": {"type": "text", "align": "left", "fontSize": 11.5, "fill": "#858585"},
   "encoding": {"x": {"datum": 56.5, "type": "quantitative"}, "text": {"field": "pct"}}},
  {"transform": [{"filter": "datum.yr == 2020 && datum.bin == 'calm'"}], "mark": {"type": "text", "align": "right", "fontSize": 10.5, "fill": "#8a8a8a"},
   "encoding": {"x": {"datum": 9, "type": "quantitative"}, "text": {"value": "Calm->"}}},
  {"data": {"values": [{}]}, "mark": {"type": "text", "fontSize": 12.5, "fontWeight": "bold", "fill": "#6b6b6b", "dy": -33},
   "encoding": {"x": {"datum": 51, "type": "quantitative"}, "y": {"datum": 14, "type": "quantitative"}, "text": {"value": "Wind Speed"}}},
  {"data": {"values": [{}]}, "mark": {"type": "text", "fontSize": 12.5, "fontWeight": "bold", "fill": "#6b6b6b", "dy": -17.5},
   "encoding": {"x": {"datum": 51, "type": "quantitative"}, "y": {"datum": 14, "type": "quantitative"}, "text": {"value": "(m/s)"}}}
 ]},
{"width": 540, "height": 505,
 "encoding": {"x": {"datum": 0, "type": "quantitative", "scale": {"domain": [-367, 173], "nice": false, "zero": false}, "axis": null},
              "y": {"datum": 0, "type": "quantitative", "scale": {"domain": [-241, 264], "nice": false, "zero": false}, "axis": null}},
 "layer": [
  {"data": {"name": "grid"}, "transform": [{"filter": "datum.yr == 2021"}], "mark": {"type": "arc", "filled": false, "stroke": "#a3a3a3", "strokeWidth": 1},
   "encoding": {"theta": {"datum": 0, "type": "quantitative", "scale": {"domain": [0, 360], "range": [0, 6.283185307179586], "zero": false, "nice": false}}, "theta2": {"datum": 360}, "radius": {"field": "g", "type": "quantitative", "stack": null, "scale": {"type": "linear", "domain": [0, 18], "range": [18.5, 152], "zero": false, "nice": false}}}},
  {"data": {"name": "nesw"}, "mark": {"type": "arc", "filled": false, "stroke": "#8c8c8c", "strokeWidth": 1},
   "encoding": {"theta": {"field": "a", "type": "quantitative", "stack": null}, "theta2": {"field": "a"}, "radius": {"datum": 18, "type": "quantitative"}, "radius2": {"datum": 0}}},
  {"data": {"name": "grid"}, "transform": [{"filter": "datum.yr == 2021"}], "mark": {"type": "text", "fontSize": 12.5, "fill": "white", "stroke": "white", "strokeWidth": 3},
   "encoding": {"theta": {"datum": 45, "type": "quantitative"}, "radius": {"field": "g", "type": "quantitative", "stack": null}, "text": {"field": "lab"}}},
  {"data": {"name": "grid"}, "transform": [{"filter": "datum.yr == 2021"}], "mark": {"type": "text", "fontSize": 12.5, "fill": "#6e6e6e"},
   "encoding": {"theta": {"datum": 45, "type": "quantitative"}, "radius": {"field": "g", "type": "quantitative", "stack": null}, "text": {"field": "lab"}}},
  {"data": {"name": "rose"}, "transform": [{"filter": "datum.yr == 2021"}, {"fold": ["b1","b2","b3","b4","b5","b6"], "as": ["bin","f"]}, {"stack": "f", "groupby": ["dir"], "sort": [{"field": "bin", "order": "ascending"}], "as": ["c0","c1"]}, {"filter": "datum.f > 0"}],
   "mark": {"type": "arc", "stroke": "#2d2d2d", "strokeWidth": 0.7, "thetaOffset": -0.1484, "theta2Offset": 0.1484},
   "encoding": {"theta": {"field": "dir", "type": "quantitative", "stack": null}, "theta2": {"field": "dir"}, "radius": {"field": "c1", "type": "quantitative", "stack": null}, "radius2": {"field": "c0"},
     "color": {"field": "bin", "type": "nominal", "scale": {"domain": ["b1","b2","b3","b4","b5","b6"], "range": ["#0000F0","#0050A8","#009150","#00EE00","#60F000","#B4F000"]}, "legend": null}}},
  {"data": {"values": [{}]}, "mark": {"type": "arc", "fill": "#87CEEB", "stroke": "#555555", "strokeWidth": 0.6},
   "encoding": {"theta": {"datum": 0, "type": "quantitative"}, "theta2": {"datum": 360}, "radius": {"datum": 0, "type": "quantitative"}}},
  {"data": {"name": "calm"}, "transform": [{"filter": "datum.yr == 2021"}], "mark": {"type": "text", "fontSize": 10, "fill": "#6a7f8f"}, "encoding": {"text": {"field": "calm"}}},
  {"data": {"name": "nesw"}, "mark": {"type": "text", "fontSize": 18, "fill": "#333333"},
   "encoding": {"theta": {"field": "a", "type": "quantitative", "stack": null}, "radius": {"datum": 19.9, "type": "quantitative"}, "text": {"field": "t"}}},
  {"data": {"values": [{}]}, "mark": {"type": "text", "fontSize": 37.5, "baseline": "alphabetic", "fill": "#111111"},
   "encoding": {"x": {"datum": 27, "type": "quantitative"}, "y": {"datum": 205, "type": "quantitative"}, "text": {"value": "Dublin Airport 2021"}}}
 ]},
{"width": 200, "height": 505, "data": {"name": "leg"},
 "encoding": {"x": {"datum": 18.5, "type": "quantitative", "scale": {"domain": [0, 200], "nice": false, "zero": false}, "axis": null},
              "y": {"field": "hi", "type": "quantitative", "scale": {"domain": [0, 15.4], "range": [419, 171], "nice": false, "zero": false}, "axis": null}},
 "layer": [
  {"transform": [{"filter": "datum.yr == 2021 && datum.bin != 'calm'"}], "mark": {"type": "rect", "stroke": "#333333", "strokeWidth": 0.8},
   "encoding": {"x2": {"datum": 28.5}, "y": {"field": "lo", "type": "quantitative", "scale": {"domain": [0, 15.4], "range": [419, 171], "nice": false, "zero": false}, "axis": null}, "y2": {"field": "hi"},
     "color": {"field": "bin", "type": "nominal", "scale": {"domain": ["b1","b2","b3","b4","b5","b6"], "range": ["#0000F0","#0050A8","#009150","#00EE00","#60F000","#B4F000"]}, "legend": null}}},
  {"transform": [{"filter": "datum.yr == 2021"}], "mark": {"type": "text", "align": "right", "fontSize": 11.5, "fontWeight": "bold", "fill": "#555555"},
   "encoding": {"x": {"datum": 59.5, "type": "quantitative"}, "text": {"field": "num"}}},
  {"transform": [{"filter": "datum.yr == 2021"}], "mark": {"type": "text", "align": "left", "fontSize": 11.5, "fill": "#858585"},
   "encoding": {"x": {"datum": 63, "type": "quantitative"}, "text": {"field": "pct"}}},
  {"transform": [{"filter": "datum.yr == 2021 && datum.bin == 'calm'"}], "mark": {"type": "text", "align": "right", "fontSize": 10.5, "fill": "#8a8a8a"},
   "encoding": {"x": {"datum": 15.5, "type": "quantitative"}, "text": {"value": "Calm->"}}},
  {"data": {"values": [{}]}, "mark": {"type": "text", "fontSize": 12.5, "fontWeight": "bold", "fill": "#6b6b6b", "dy": -33},
   "encoding": {"x": {"datum": 58, "type": "quantitative"}, "y": {"datum": 15.4, "type": "quantitative"}, "text": {"value": "Wind Speed"}}},
  {"data": {"values": [{}]}, "mark": {"type": "text", "fontSize": 12.5, "fontWeight": "bold", "fill": "#6b6b6b", "dy": -17.5},
   "encoding": {"x": {"datum": 58, "type": "quantitative"}, "y": {"datum": 15.4, "type": "quantitative"}, "text": {"value": "(m/s)"}}}
 ]},
{"width": 306, "height": 505, "data": {"values": [{}]},
 "encoding": {"x": {"datum": 20.25, "type": "quantitative", "scale": {"domain": [0, 306], "nice": false, "zero": false}, "axis": null},
              "y": {"datum": 151.75, "type": "quantitative", "scale": {"domain": [0, 505], "reverse": true, "nice": false, "zero": false}, "axis": null}},
 "layer": [
  {"mark": {"type": "rect", "fill": "#222222"}, "encoding": {"x2": {"datum": 306}, "y2": {"datum": 153.25}}},
  {"mark": {"type": "rect", "fill": "#222222"}, "encoding": {"x2": {"datum": 306}, "y": {"datum": 266.25, "type": "quantitative"}, "y2": {"datum": 267.75}}},
  {"mark": {"type": "rect", "fill": "#222222"}, "encoding": {"x2": {"datum": 306}, "y": {"datum": 378.25, "type": "quantitative"}, "y2": {"datum": 379.75}}},
  {"mark": {"type": "rect", "fill": "#222222"}, "encoding": {"x2": {"datum": 21.75}, "y2": {"datum": 505}}},
  {"mark": {"type": "text", "align": "left", "baseline": "alphabetic", "fontSize": 22, "fontWeight": "bold", "fill": "#111111"},
   "encoding": {"x": {"datum": 38, "type": "quantitative"}, "y": {"datum": 184, "type": "quantitative"}, "text": {"value": "Project"}}},
  {"mark": {"type": "text", "align": "left", "baseline": "alphabetic", "fontSize": 22.5, "fill": "#1c1c2c", "lineHeight": 27.5},
   "encoding": {"x": {"datum": 38, "type": "quantitative"}, "y": {"datum": 216, "type": "quantitative"}, "text": {"value": ["ADSIL Clonshaugh Data", "Centre IE Licence"]}}},
  {"mark": {"type": "text", "align": "left", "baseline": "alphabetic", "fontSize": 22, "fontWeight": "bold", "fill": "#111111"},
   "encoding": {"x": {"datum": 38, "type": "quantitative"}, "y": {"datum": 296, "type": "quantitative"}, "text": {"value": "Reference"}}},
  {"mark": {"type": "text", "align": "left", "baseline": "alphabetic", "fontSize": 22.5, "fill": "#1c1c2c"},
   "encoding": {"x": {"datum": 38, "type": "quantitative"}, "y": {"datum": 341, "type": "quantitative"}, "text": {"value": "217501.1055AR01"}}},
  {"mark": {"type": "text", "align": "left", "baseline": "alphabetic", "fontSize": 22, "fontWeight": "bold", "fill": "#111111"},
   "encoding": {"x": {"datum": 38, "type": "quantitative"}, "y": {"datum": 416, "type": "quantitative"}, "text": {"value": "Figure 1"}}},
  {"mark": {"type": "text", "align": "left", "baseline": "alphabetic", "fontSize": 22.5, "fill": "#1c1c2c", "lineHeight": 30},
   "encoding": {"x": {"datum": 38, "type": "quantitative"}, "y": {"datum": 451, "type": "quantitative"}, "text": {"value": ["Dublin Airport Windrose", "2017 - 2021"]}}}
 ]}
], "spacing": 0, "bounds": "flush"},
{"hconcat": [
{"width": 335, "height": 123, "data": {"values": [{}]},
 "encoding": {"x": {"datum": 8, "type": "quantitative", "scale": {"domain": [0, 335], "nice": false, "zero": false}, "axis": null},
              "y": {"datum": 0, "type": "quantitative", "scale": {"domain": [0, 123], "reverse": true, "nice": false, "zero": false}, "axis": null}},
 "layer": [
  {"mark": {"type": "rect", "fill": "#222222"}, "encoding": {"x2": {"datum": 10}, "y2": {"datum": 123}}},
  {"mark": {"type": "arc", "fill": "#4f6419"},
   "encoding": {"x": {"datum": 150, "type": "quantitative"}, "y": {"datum": 330, "type": "quantitative"}, "theta": {"datum": 337, "type": "quantitative", "scale": {"domain": [0, 360], "range": [0, 6.283185307179586], "zero": false, "nice": false}}, "theta2": {"datum": 346}, "radius": {"datum": 319, "type": "quantitative", "scale": {"type": "linear", "domain": [0, 400], "range": [0, 400], "zero": false, "nice": false}}, "radius2": {"datum": 316.5}}},
  {"mark": {"type": "arc", "fill": "#b8c43c"},
   "encoding": {"x": {"datum": 150, "type": "quantitative"}, "y": {"datum": 330, "type": "quantitative"}, "theta": {"datum": 333, "type": "quantitative"}, "theta2": {"datum": 359}, "radius": {"datum": 307.5, "type": "quantitative"}, "radius2": {"datum": 304.5}}},
  {"mark": {"type": "arc", "fill": "#4f6419"},
   "encoding": {"x": {"datum": 150, "type": "quantitative"}, "y": {"datum": 330, "type": "quantitative"}, "theta": {"datum": 330, "type": "quantitative"}, "theta2": {"datum": 352}, "radius": {"datum": 297.5, "type": "quantitative"}, "radius2": {"datum": 294.5}}},
  {"mark": {"type": "arc", "fill": "#b8c43c"},
   "encoding": {"x": {"datum": 150, "type": "quantitative"}, "y": {"datum": 330, "type": "quantitative"}, "theta": {"datum": 338, "type": "quantitative"}, "theta2": {"datum": 354}, "radius": {"datum": 288, "type": "quantitative"}, "radius2": {"datum": 285.5}}},
  {"mark": {"type": "arc", "fill": "#4f6419"},
   "encoding": {"x": {"datum": 150, "type": "quantitative"}, "y": {"datum": 330, "type": "quantitative"}, "theta": {"datum": 341, "type": "quantitative"}, "theta2": {"datum": 356}, "radius": {"datum": 279, "type": "quantitative"}, "radius2": {"datum": 276.5}}},
  {"mark": {"type": "text", "align": "right", "baseline": "alphabetic", "fontSize": 40, "fontWeight": "bold", "font": "Liberation Sans Narrow, DejaVu Sans Condensed, Liberation Sans", "fill": "#5c6d21"},
   "encoding": {"x": {"datum": 148, "type": "quantitative"}, "y": {"datum": 97, "type": "quantitative"}, "text": {"value": "awn"}}},
  {"mark": {"type": "text", "align": "left", "baseline": "alphabetic", "fontSize": 41, "font": "Liberation Sans Narrow, DejaVu Sans Condensed, Liberation Sans", "fill": "#b1c03a"},
   "encoding": {"x": {"datum": 149.5, "type": "quantitative"}, "y": {"datum": 97, "type": "quantitative"}, "text": {"value": "consulting"}}}
 ]},
{"width": 1271, "height": 123, "data": {"values": [{}]},
 "encoding": {"x": {"datum": 5, "type": "quantitative", "scale": {"domain": [0, 1271], "nice": false, "zero": false}, "axis": null},
              "y": {"datum": 9, "type": "quantitative", "scale": {"domain": [0, 123], "reverse": true, "nice": false, "zero": false}, "axis": null}},
 "layer": [
  {"mark": {"type": "rect", "filled": false, "stroke": "#222222", "strokeWidth": 1.3},
   "encoding": {"x2": {"datum": 955.5}, "y2": {"datum": 78.6}}},
  {"mark": {"type": "rect", "fill": "#222222"},
   "encoding": {"x": {"datum": 985.25, "type": "quantitative"}, "x2": {"datum": 986.75}, "y": {"datum": 0, "type": "quantitative"}, "y2": {"datum": 123}}},
  {"mark": {"type": "text", "align": "left", "baseline": "alphabetic", "fontSize": 13.1, "fill": "#222222", "lineHeight": 17.5},
   "encoding": {"x": {"datum": 23.5, "type": "quantitative"}, "y": {"datum": 29.5, "type": "quantitative"}, "text": {"value": ["•", "•", "•"]}}},
  {"mark": {"type": "text", "align": "left", "baseline": "alphabetic", "fontSize": 13.1, "fill": "#222222", "lineHeight": 17.5},
   "encoding": {"x": {"datum": 35.8, "type": "quantitative"}, "y": {"datum": 29.5, "type": "quantitative"}, "text": {"value": ["Copyright Met Éireann, Source www.met.ie", "This data is published under a Creative Commons Attribution 4.0 International (CC BY 4.0). https://creativecommons.org/licenses/by/4.0/", "Met Éireann does not accept any liability whatsoever for any error or omission in the data, their availability, or for any loss or damage arising from their use."]}}},
  {"mark": {"type": "text", "align": "right", "baseline": "alphabetic", "fontSize": 16.5, "font": "Liberation Sans Narrow, DejaVu Sans Condensed, Liberation Sans", "fill": "#222222", "lineHeight": 18},
   "encoding": {"x": {"datum": 965.7, "type": "quantitative"}, "y": {"datum": 92, "type": "quantitative"}, "text": {"value": ["The Tecpro Building, Clonshaugh Business and Technology Park, Dublin 17", "T: +353 1 847 4220\u00a0\u00a0\u00a0\u00a0F: +353 1 847 4257"]}}}
 ]}
], "spacing": 0, "bounds": "flush"}
]
}
